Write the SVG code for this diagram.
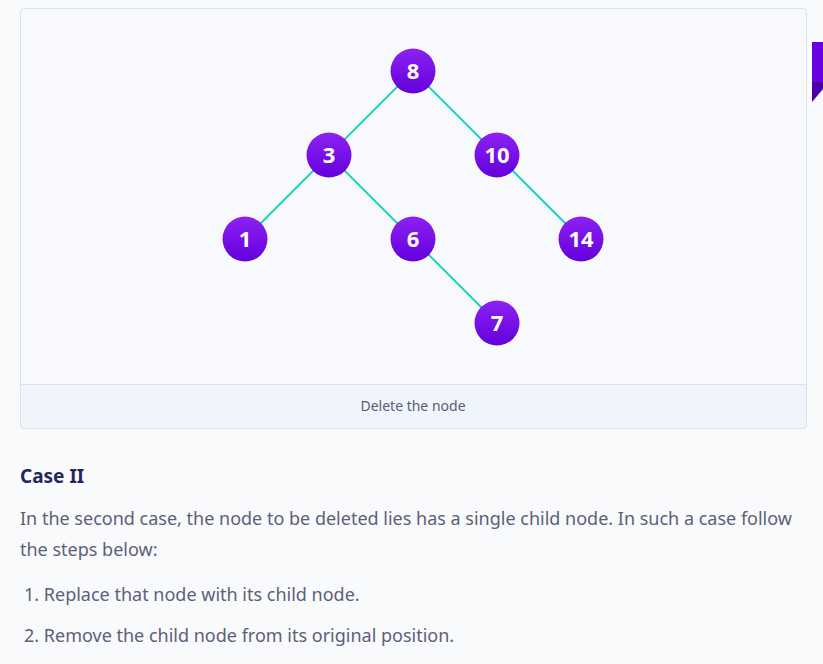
<svg xmlns="http://www.w3.org/2000/svg" width="823" height="664" viewBox="0 0 823 664">
<defs>
<linearGradient id="ng" x1="0" y1="0" x2="0" y2="1">
<stop offset="0" stop-color="#8c22f2"/>
<stop offset="1" stop-color="#6500dc"/>
</linearGradient>
<style>
.node circle{fill:url(#ng);}
.node text{font-family:"Noto Sans",sans-serif;font-size:22px;font-weight:700;fill:#ffffff;text-anchor:middle;}
.edge{stroke:#22d3c0;stroke-width:2;fill:none;}
.body{font-family:"Noto Sans",sans-serif;font-size:18px;fill:#5d6079;}
</style>
</defs>
<rect x="0" y="0" width="823" height="664" fill="#f9fafc"/>
<rect x="20.5" y="8.5" width="786" height="420" rx="4" fill="#f8f9fc" stroke="#dde2ea"/>
<path d="M20.5 384.5 H806.5 V424.5 a4 4 0 0 1 -4 4 H24.5 a4 4 0 0 1 -4 -4 Z" fill="#f0f4fb" stroke="#dde2ea"/>
<text x="413" y="411" font-family="Noto Sans, sans-serif" font-size="14" fill="#5a5d75" text-anchor="middle">Delete the node</text>
<rect x="812" y="42" width="11" height="41" fill="#6a00e2"/>
<polygon points="812,82 823,82 823,89 812,102" fill="#4b00a6"/>
<g id="connectors">
<line class="edge" x1="413" y1="71" x2="329" y2="155"/>
<line class="edge" x1="413" y1="71" x2="497" y2="155"/>
<line class="edge" x1="329" y1="155" x2="245" y2="239"/>
<line class="edge" x1="329" y1="155" x2="413" y2="239"/>
<line class="edge" x1="497" y1="155" x2="581" y2="239"/>
<line class="edge" x1="413" y1="239" x2="497" y2="323"/>
</g>
<g id="node8" class="node"><circle cx="413" cy="71" r="22.5"/><text x="413" y="79">8</text></g>
<g id="node3" class="node"><circle cx="329" cy="155" r="22.5"/><text x="329" y="163">3</text></g>
<g id="node10" class="node"><circle cx="497" cy="155" r="22.5"/><text x="497" y="163">10</text></g>
<g id="node1" class="node"><circle cx="245" cy="239" r="22.5"/><text x="245" y="247">1</text></g>
<g id="node6" class="node"><circle cx="413" cy="239" r="22.5"/><text x="413" y="247">6</text></g>
<g id="node14" class="node"><circle cx="581" cy="239" r="22.5"/><text x="581" y="247">14</text></g>
<g id="node7" class="node"><circle cx="497" cy="323" r="22.5"/><text x="497" y="331">7</text></g>
<text x="20" y="483" font-family="Noto Sans, sans-serif" font-size="19" font-weight="700" fill="#25265e">Case II</text>
<text class="body" x="20" y="525">In the second case, the node to be deleted lies has a single child node. In such a case follow</text>
<text class="body" x="20" y="556">the steps below:</text>
<text class="body" x="24" y="601">1. Replace that node with its child node.</text>
<text class="body" x="24" y="642">2. Remove the child node from its original position.</text>
</svg>
